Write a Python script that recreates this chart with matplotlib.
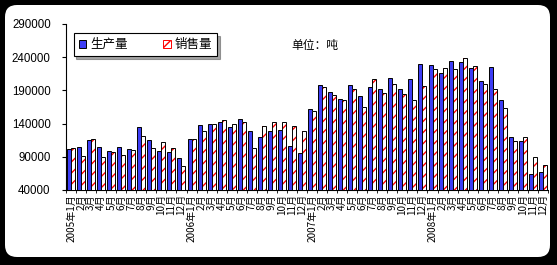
import numpy as np
import matplotlib
matplotlib.use("Agg")
from matplotlib import pyplot as plt
from matplotlib.patches import FancyBboxPatch, Patch

plt.rcParams['font.family'] = ['Noto Sans CJK SC', 'DejaVu Sans']
plt.rcParams['hatch.linewidth'] = 1.0

years = ["2005", "2006", "2007", "2008"]
months = list(range(1, 13))
labels = []
for y in years:
    for m in months:
        labels.append(f"{y}年{m}月" if m == 1 else f"{m}月")

# 生产量 (production), tons
production = [101700, 105200, 115300, 105200, 98700, 104800, 101700, 134400, 115300, 98700, 96800, 88200,
              116300, 137500, 138900, 142900, 134400, 146500, 128900, 119300, 128900, 130400, 106700, 95300,
              161500, 198600, 188000, 176600, 197700, 181600, 195100, 192600, 208200, 192600, 206700, 230200,
              227800, 216700, 234700, 233200, 223200, 203700, 224700, 175100, 120300, 113800, 64100, 67100]
# 销售量 (sales), tons
sales = [103700, 91700, 116300, 89200, 97200, 92300, 100200, 121300, 103300, 111800, 102800, 76100,
         116300, 128900, 138900, 145000, 138900, 142500, 102800, 135900, 142500, 142500, 135900, 128900,
         158500, 195100, 183500, 175500, 192600, 164500, 206700, 185600, 199100, 184100, 176000, 196600,
         222200, 223200, 221700, 238800, 226700, 199600, 191900, 163000, 114200, 119300, 90200, 77700]

W, H = 557, 265
fig = plt.figure(figsize=(W / 100, H / 100), dpi=100, facecolor="black")

# white rounded panel on black background
bg = fig.add_axes([0, 0, 1, 1], zorder=-10)
bg.set_xlim(0, W)
bg.set_ylim(H, 0)
bg.axis("off")
bg.add_patch(FancyBboxPatch((5, 5), 545, 252, boxstyle="round,pad=0,rounding_size=12",
                            facecolor="white", edgecolor="none"))

ax = fig.add_axes([66 / W, 1 - 190 / H, 482 / W, 166 / H])
ax.set_facecolor("white")

x = np.arange(len(labels))
bw = 0.4
ax.bar(x - bw / 2, production, bw, color="#3d3df5", edgecolor="black", linewidth=0.7, zorder=3)
ax.bar(x + bw / 2, sales, bw, color="white", edgecolor="red", hatch="///", linewidth=0, zorder=3)
ax.bar(x + bw / 2, sales, bw, color="none", edgecolor="black", linewidth=0.7, zorder=4)

ax.set_ylim(40000, 290000)
ax.set_xlim(-0.5, len(labels) - 0.5)
ax.set_yticks(np.arange(40000, 290001, 50000))
ax.tick_params(axis="y", labelsize=8.3, length=3, width=0.8, pad=8)
for t in ax.get_yticklabels():
    t.set_family("Liberation Sans")

ax.set_xticks(x)
ax.set_xticklabels(labels, rotation=90, fontsize=7.2, va="top", ha="center")
ax.tick_params(axis="x", length=0, pad=3)
ax.set_xticks(np.arange(-0.5, len(labels), 1), minor=True)
ax.tick_params(axis="x", which="minor", length=2, width=0.6)

for s in ["top", "right"]:
    ax.spines[s].set_visible(False)
ax.spines["left"].set_linewidth(0.8)
ax.spines["bottom"].set_linewidth(0.8)

handles = [Patch(facecolor="#3d3df5", edgecolor="black", linewidth=0.7),
           Patch(facecolor="white", edgecolor="red", hatch="///", linewidth=0.7)]
leg = ax.legend(handles, ["生产量", "销售量"], loc="upper left", bbox_to_anchor=(0.016, 0.946),
                borderaxespad=0, ncol=2, fontsize=9, frameon=True, fancybox=False, shadow=True,
                handlelength=0.6, handleheight=0.6, handletextpad=0.35, columnspacing=2.8,
                borderpad=0.4)
leg.get_frame().set_edgecolor("black")
leg.get_frame().set_linewidth(0.8)

ax.text(0.467, 0.87, "单位：吨", transform=ax.transAxes, fontsize=8.5, ha="left", va="center")

fig.savefig("out.png", dpi=100, facecolor="black")
